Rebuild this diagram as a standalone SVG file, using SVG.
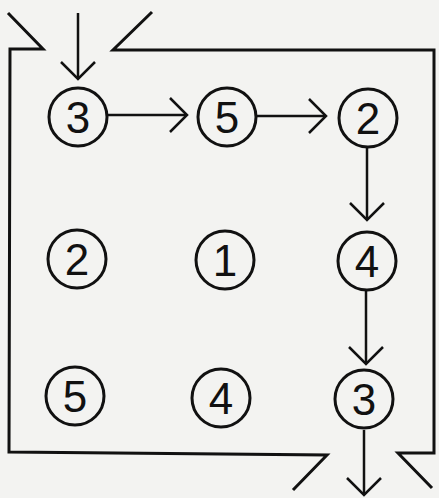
<svg xmlns="http://www.w3.org/2000/svg" width="439" height="498" viewBox="0 0 439 498">
<style>
.bg{fill:#f3f3f1}
.frame{fill:none;stroke:#111;stroke-width:3;stroke-linejoin:miter}
.node circle{fill:none;stroke:#111;stroke-width:3}
.node text{font-family:"Liberation Sans",Arial,sans-serif;font-size:44px;fill:#111;text-anchor:middle}
.conn{fill:none;stroke:#111;stroke-width:2.5;marker-end:url(#arr)}
</style>
<defs>
<marker id="arr" markerUnits="userSpaceOnUse" viewBox="-20 -20 22 40" refX="0" refY="0" markerWidth="22" markerHeight="40" orient="auto" overflow="visible">
<path d="M-17,-17 L0,0 L-17,17" fill="none" stroke="#111" stroke-width="2.5"/>
</marker>
</defs>
<rect class="bg" x="0" y="0" width="439" height="498"/>
<g id="frame">
<path class="frame" d="M8,13 L43,49 L10,49 L9,452 L327,455 L293,490"/>
<path class="frame" d="M152,12 L113,50 L434,50 L434,453 L398,453 L432,488"/>
</g>
<g id="connectors">
<line class="conn" x1="78" y1="13" x2="78" y2="79"/>
<line class="conn" x1="108" y1="115" x2="187" y2="115"/>
<line class="conn" x1="256" y1="116" x2="326" y2="116"/>
<line class="conn" x1="367" y1="148" x2="367" y2="220"/>
<line class="conn" x1="366" y1="290" x2="366" y2="364"/>
<line class="conn" x1="364" y1="430" x2="364" y2="495"/>
</g>
<g id="n1" class="node"><circle cx="78" cy="117" r="29"/><text x="78" y="133">3</text></g>
<g id="n2" class="node"><circle cx="227" cy="117" r="29"/><text x="227" y="133">5</text></g>
<g id="n3" class="node"><circle cx="368" cy="118" r="29"/><text x="368" y="134">2</text></g>
<g id="n4" class="node"><circle cx="77" cy="259" r="29"/><text x="77" y="275">2</text></g>
<g id="n5" class="node"><circle cx="225" cy="260" r="29"/><text x="225" y="276">1</text></g>
<g id="n6" class="node"><circle cx="367" cy="261" r="29"/><text x="367" y="277">4</text></g>
<g id="n7" class="node"><circle cx="75" cy="396" r="29"/><text x="75" y="412">5</text></g>
<g id="n8" class="node"><circle cx="221" cy="398" r="29"/><text x="221" y="414">4</text></g>
<g id="n9" class="node"><circle cx="364" cy="399" r="29"/><text x="364" y="415">3</text></g>
</svg>
